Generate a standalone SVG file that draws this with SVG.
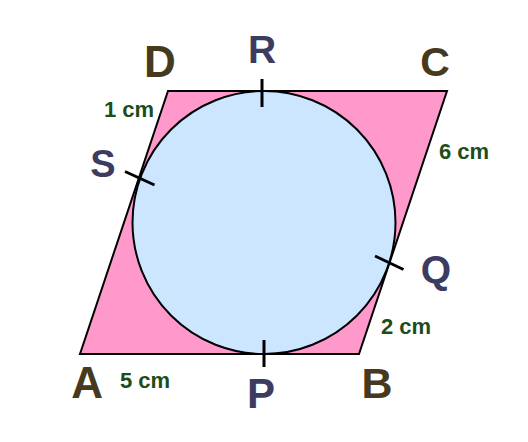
<svg xmlns="http://www.w3.org/2000/svg" width="528" height="442" viewBox="0 0 528 442">
<style>
text{font-family:"Liberation Sans",Arial,sans-serif;font-weight:bold}
.v{fill:#47391d;text-anchor:middle}
.t{fill:#3c3c62;text-anchor:middle}
.m{font-size:22px;fill:#1d4d1d}
.k{stroke:#000;stroke-width:3;fill:none}
</style>
<rect width="528" height="442" fill="#fff"/>
<g id="parallelogram">
<polygon points="80,354 359,354 447,91 168,91" fill="#ff99cc" stroke="#000" stroke-width="2" stroke-linejoin="miter"/>
</g>
<g id="circle">
<circle cx="264" cy="222.5" r="131.5" fill="#cce6ff" stroke="#000" stroke-width="2"/>
</g>
<g id="ticks">
<line class="k" x1="262" y1="79" x2="262" y2="107"/>
<line class="k" x1="264" y1="340" x2="264" y2="367"/>
<line class="k" x1="125" y1="171.5" x2="154.5" y2="185"/>
<line class="k" x1="375" y1="256" x2="403.5" y2="269.5"/>
</g>
<g id="labels">
<text class="v" x="160" y="76.7" font-size="44">D</text>
<text class="v" x="435" y="75.5" font-size="41">C</text>
<text class="v" x="87.2" y="398.3" font-size="44">A</text>
<text class="v" x="377" y="398.3" font-size="43">B</text>
<text class="t" x="262" y="62.7" font-size="39">R</text>
<text class="t" x="103" y="176.8" font-size="38">S</text>
<text class="t" x="435.8" y="283" font-size="39">Q</text>
<text class="t" x="261" y="407.7" font-size="42">P</text>
<text class="m" x="104" y="116.7">1 cm</text>
<text class="m" x="439" y="159.3">6 cm</text>
<text class="m" x="381" y="334.3">2 cm</text>
<text class="m" x="120" y="387.7">5 cm</text>
</g>
</svg>
